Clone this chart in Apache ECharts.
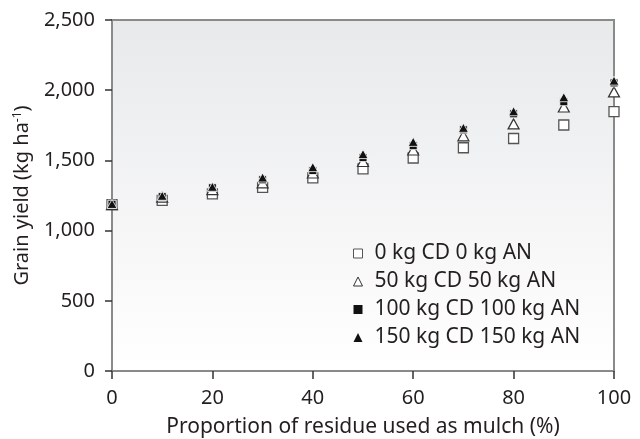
<!DOCTYPE html>
<html>
<head>
<meta charset="utf-8">
<script src="https://cdn.jsdelivr.net/npm/echarts@6/dist/echarts.min.js"></script>
<style>
  html, body { margin: 0; padding: 0; background: #ffffff; }
  #chart { width: 640px; height: 439px; }
</style>
</head>
<body>
<div id="chart"></div>
<script>
// Proportion of residue used as mulch (%)
const mulch = [0, 10, 20, 30, 40, 50, 60, 70, 80, 90, 100];

// Grain yield (kg/ha) for each fertiliser treatment
const yield0   = [1185, 1215, 1262, 1308, 1375, 1440, 1517, 1590, 1656, 1752, 1848];
const yield50  = [1185, 1238, 1292, 1340, 1410, 1492, 1574, 1675, 1760, 1880, 1988];
const yield100 = [1188, 1242, 1305, 1362, 1428, 1520, 1605, 1718, 1832, 1918, 2052];
const yield150 = [1190, 1248, 1312, 1378, 1452, 1545, 1632, 1732, 1850, 1950, 2068];

const seriesNames = [
  '0 kg CD 0 kg AN',
  '50 kg CD 50 kg AN',
  '100 kg CD 100 kg AN',
  '150 kg CD 150 kg AN'
];

const yTicks = [0, 500, 1000, 1500, 2000, 2500];
const xTicks = [0, 20, 40, 60, 80, 100];

const FONT = 'Noto Sans';
const INK = '#231f20';

function pairs(ys) {
  return mulch.map((x, i) => [x, ys[i]]);
}

const chart = echarts.init(document.getElementById('chart'), null, { renderer: 'canvas' });

const option = {
  animation: false,
  backgroundColor: '#ffffff',
  textStyle: { fontFamily: FONT, color: INK },
  grid: {
    left: 112, right: 26, top: 20, bottom: 68,
    outerBoundsMode: 'none',
    containLabel: false,
    show: true,
    borderColor: '#8a8a8a',
    borderWidth: 2,
    backgroundColor: {
      type: 'linear', x: 0, y: 0, x2: 0, y2: 1,
      colorStops: [
        { offset: 0, color: '#e8e9eb' },
        { offset: 1, color: '#ffffff' }
      ]
    }
  },
  legend: {
    orient: 'vertical',
    left: 348,
    top: 238,
    itemWidth: 9,
    itemHeight: 9,
    itemGap: 7,
    textStyle: { fontFamily: FONT, fontSize: 21, color: INK, padding: [0, 0, 0, 7] },
    data: [
      { name: seriesNames[0], icon: 'rect', itemStyle: { color: '#ffffff', borderColor: '#555555', borderWidth: 1 } },
      { name: seriesNames[1], icon: 'triangle', itemStyle: { color: '#ffffff', borderColor: '#333333', borderWidth: 1 } },
      { name: seriesNames[2], icon: 'rect', itemStyle: { color: '#111111', borderWidth: 0 } },
      { name: seriesNames[3], icon: 'triangle', itemStyle: { color: '#111111', borderWidth: 0 } }
    ]
  },
  xAxis: {
    type: 'value',
    min: xTicks[0], max: xTicks[xTicks.length - 1], interval: 20,
    name: 'Proportion of residue used as mulch (%)',
    nameLocation: 'middle',
    nameGap: 46,
    nameTextStyle: { fontFamily: FONT, fontSize: 21, color: INK },
    axisLine: { show: true, lineStyle: { color: '#8a8a8a', width: 2 } },
    axisTick: { show: true, inside: false, length: 8, lineStyle: { color: '#333', width: 1.5 } },
    axisLabel: { fontFamily: FONT, fontSize: 20, color: INK, margin: 17 },
    splitLine: { show: false }
  },
  yAxis: {
    type: 'value',
    min: yTicks[0], max: yTicks[yTicks.length - 1], interval: 500,
    name: '{n|Grain yield (kg ha}{s|-1}{n|)}',
    nameLocation: 'middle',
    nameGap: 80,
    nameRotate: 90,
    nameTextStyle: {
      fontFamily: FONT, color: INK,
      rich: {
        n: { fontFamily: FONT, fontSize: 20, color: INK },
        s: { fontFamily: FONT, fontSize: 12, color: INK, verticalAlign: 'top', padding: [0, 0, 8, 0] }
      }
    },
    axisLine: { show: true, lineStyle: { color: '#8a8a8a', width: 2 } },
    axisTick: { show: true, inside: false, length: 7, lineStyle: { color: '#333', width: 1.5 } },
    axisLabel: {
      fontFamily: FONT, fontSize: 20, color: INK, margin: 17,
      formatter: v => v.toLocaleString('en-US')
    },
    splitLine: { show: false }
  },
  series: [
    {
      name: seriesNames[0], type: 'scatter', data: pairs(yield0),
      symbol: 'rect', symbolSize: 10,
      itemStyle: { color: '#ffffff', borderColor: '#555555', borderWidth: 1.3, opacity: 1 }
    },
    {
      name: seriesNames[1], type: 'scatter', data: pairs(yield50),
      symbol: 'triangle', symbolSize: [11, 10],
      itemStyle: { color: '#ffffff', borderColor: '#333333', borderWidth: 1.2, opacity: 1 }
    },
    {
      name: seriesNames[2], type: 'scatter', data: pairs(yield100),
      symbol: 'rect', symbolSize: 8,
      itemStyle: { color: '#111111', borderColor: '#ffffff', borderWidth: 0.8, opacity: 1 }
    },
    {
      name: seriesNames[3], type: 'scatter', data: pairs(yield150),
      symbol: 'triangle', symbolSize: [10, 9],
      itemStyle: { color: '#111111', borderColor: '#ffffff', borderWidth: 0.8, opacity: 1 }
    }
  ]
};

chart.setOption(option);
</script>
</body>
</html>
